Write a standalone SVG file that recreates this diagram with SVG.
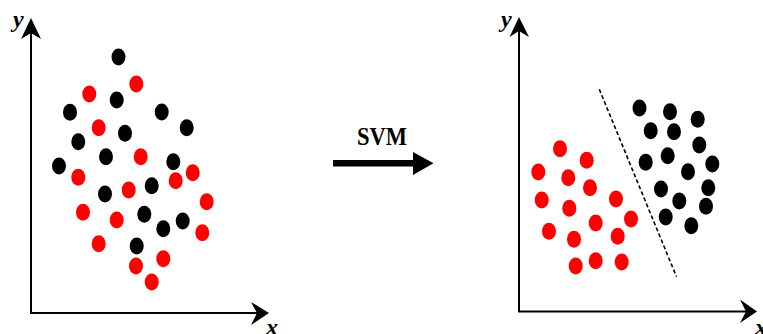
<svg xmlns="http://www.w3.org/2000/svg" width="763" height="334" viewBox="0 0 763 334">
<style>
.axis{stroke:#000;stroke-width:2;fill:none}
.head{fill:#000}
.lbl{font-family:"Liberation Serif",serif;font-style:italic;font-weight:bold;font-size:24px;fill:#000}
.b{fill:#000}
.r{fill:#f00}
.title{font-family:"Liberation Serif",serif;font-weight:bold;font-size:25px;fill:#000}
</style>
<rect width="763" height="334" fill="#fff"/>
<g id="left-axes">
<path class="axis" d="M31,33 V313 H257"/>
<path class="head" d="M31,18 L41,39 L31,33 L21,39 Z"/>
<path class="head" d="M269,313 L251,325 L257,313 L251,302 Z"/>
<text class="lbl" x="13" y="27">y</text>
<text class="lbl" x="266" y="335">x</text>
</g>
<g id="left-points">
<ellipse class="b" cx="118.5" cy="57" rx="7" ry="8.5"/>
<ellipse class="b" cx="116.7" cy="100" rx="7" ry="8.5"/>
<ellipse class="b" cx="70" cy="112.3" rx="7" ry="8.5"/>
<ellipse class="b" cx="161.7" cy="112" rx="7" ry="8.5"/>
<ellipse class="b" cx="186.7" cy="127.7" rx="7" ry="8.5"/>
<ellipse class="b" cx="125" cy="133.3" rx="7" ry="8.5"/>
<ellipse class="b" cx="78.3" cy="141.7" rx="7" ry="8.5"/>
<ellipse class="b" cx="106" cy="156.7" rx="7" ry="8.5"/>
<ellipse class="b" cx="173.3" cy="161.7" rx="7" ry="8.5"/>
<ellipse class="b" cx="59" cy="166" rx="7" ry="8.5"/>
<ellipse class="b" cx="151.7" cy="185.7" rx="7" ry="8.5"/>
<ellipse class="b" cx="105" cy="194" rx="7" ry="8.5"/>
<ellipse class="b" cx="144.3" cy="214.3" rx="7" ry="8.5"/>
<ellipse class="b" cx="182.7" cy="221" rx="7" ry="8.5"/>
<ellipse class="b" cx="163.3" cy="228.7" rx="7" ry="8.5"/>
<ellipse class="b" cx="136.7" cy="246" rx="7" ry="8.5"/>
<ellipse class="r" cx="136.3" cy="84" rx="7" ry="8.5"/>
<ellipse class="r" cx="89.3" cy="94" rx="7" ry="8.5"/>
<ellipse class="r" cx="98.7" cy="127.7" rx="7" ry="8.5"/>
<ellipse class="r" cx="140.7" cy="156.7" rx="7" ry="8.5"/>
<ellipse class="r" cx="78.3" cy="177.3" rx="7" ry="8.5"/>
<ellipse class="r" cx="192.7" cy="172.7" rx="7" ry="8.5"/>
<ellipse class="r" cx="175.7" cy="180.7" rx="7" ry="8.5"/>
<ellipse class="r" cx="128.7" cy="190" rx="7" ry="8.5"/>
<ellipse class="r" cx="206.7" cy="201.7" rx="7" ry="8.5"/>
<ellipse class="r" cx="83" cy="212.3" rx="7" ry="8.5"/>
<ellipse class="r" cx="116.7" cy="220" rx="7" ry="8.5"/>
<ellipse class="r" cx="202.3" cy="232.7" rx="7" ry="8.5"/>
<ellipse class="r" cx="98.7" cy="243.7" rx="7" ry="8.5"/>
<ellipse class="r" cx="163.3" cy="258.7" rx="7" ry="8.5"/>
<ellipse class="r" cx="136" cy="266" rx="7" ry="8.5"/>
<ellipse class="r" cx="151.7" cy="282" rx="7" ry="8.5"/>
</g>
<g id="svm-arrow">
<text class="title" x="357" y="145" textLength="50" lengthAdjust="spacingAndGlyphs">SVM</text>
<rect x="333" y="160" width="82" height="6.5" fill="#000"/>
<path class="head" d="M413,152 L433.5,163.3 L413,175 Z"/>
</g>
<g id="right-axes">
<path class="axis" d="M519,31 V311.5 H746"/>
<path class="head" d="M519,17 L529,37 L519,31 L509.5,37 Z"/>
<path class="head" d="M757,311.5 L740,323 L746,311.5 L740,299.5 Z"/>
<text class="lbl" x="501" y="27">y</text>
<text class="lbl" x="755" y="335">x</text>
</g>
<g id="separator">
<line x1="599.3" y1="89.3" x2="676.5" y2="276.7" stroke="#000" stroke-width="1.6" stroke-dasharray="4 2.5"/>
</g>
<g id="right-points">
<ellipse class="b" cx="639.5" cy="108" rx="7" ry="8.5"/>
<ellipse class="b" cx="670" cy="111.7" rx="7" ry="8.5"/>
<ellipse class="b" cx="697.7" cy="119.3" rx="7" ry="8.5"/>
<ellipse class="b" cx="650.7" cy="130.7" rx="7" ry="8.5"/>
<ellipse class="b" cx="674" cy="131.7" rx="7" ry="8.5"/>
<ellipse class="b" cx="699.3" cy="145" rx="7" ry="8.5"/>
<ellipse class="b" cx="667.7" cy="155.7" rx="7" ry="8.5"/>
<ellipse class="b" cx="645.7" cy="162.3" rx="7" ry="8.5"/>
<ellipse class="b" cx="712.3" cy="164" rx="7" ry="8.5"/>
<ellipse class="b" cx="688" cy="171.7" rx="7" ry="8.5"/>
<ellipse class="b" cx="661" cy="189" rx="7" ry="8.5"/>
<ellipse class="b" cx="708.3" cy="187.7" rx="7" ry="8.5"/>
<ellipse class="b" cx="679.3" cy="201" rx="7" ry="8.5"/>
<ellipse class="b" cx="706" cy="206.3" rx="7" ry="8.5"/>
<ellipse class="b" cx="665.7" cy="217" rx="7" ry="8.5"/>
<ellipse class="b" cx="691.3" cy="225.7" rx="7" ry="8.5"/>
<ellipse class="r" cx="560" cy="148.7" rx="7" ry="8.5"/>
<ellipse class="r" cx="586.7" cy="160.3" rx="7" ry="8.5"/>
<ellipse class="r" cx="538.3" cy="172" rx="7" ry="8.5"/>
<ellipse class="r" cx="568.3" cy="177.7" rx="7" ry="8.5"/>
<ellipse class="r" cx="590" cy="187.7" rx="7" ry="8.5"/>
<ellipse class="r" cx="541.7" cy="200" rx="7" ry="8.5"/>
<ellipse class="r" cx="616" cy="199" rx="7" ry="8.5"/>
<ellipse class="r" cx="569.3" cy="208.3" rx="7" ry="8.5"/>
<ellipse class="r" cx="631" cy="219" rx="7" ry="8.5"/>
<ellipse class="r" cx="595.7" cy="223" rx="7" ry="8.5"/>
<ellipse class="r" cx="549" cy="231.3" rx="7" ry="8.5"/>
<ellipse class="r" cx="617.7" cy="236.3" rx="7" ry="8.5"/>
<ellipse class="r" cx="574" cy="239.3" rx="7" ry="8.5"/>
<ellipse class="r" cx="575.7" cy="266" rx="7" ry="8.5"/>
<ellipse class="r" cx="595.7" cy="260.7" rx="7" ry="8.5"/>
<ellipse class="r" cx="621.7" cy="262" rx="7" ry="8.5"/>
</g>
</svg>
